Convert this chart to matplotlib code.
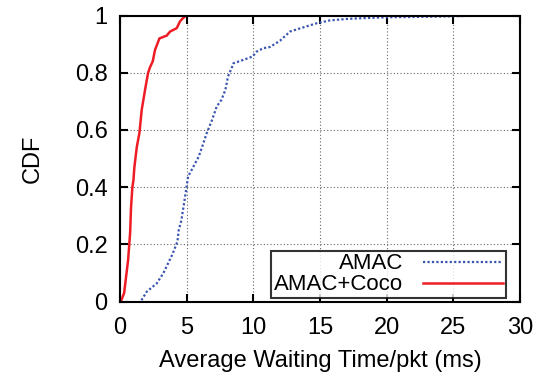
import matplotlib
matplotlib.use("Agg")
import matplotlib.pyplot as plt

# === DATA ===
amac_x = [1.6, 2.0, 2.75, 3.25, 3.6, 3.9, 4.1, 4.3, 4.4, 4.6, 4.8, 4.95, 5.1, 5.5,
          5.9, 6.25, 6.5, 6.9, 7.25, 7.6, 7.9, 8.1, 8.4, 8.5, 9.25, 9.95, 10.25,
          10.75, 11.25, 12.0, 12.75, 13.5, 14.75, 15.75, 17.0, 18.25, 20.0, 22.0,
          24.5, 27.2]
amac_y = [0.005, 0.035, 0.064, 0.10, 0.134, 0.163, 0.186, 0.21, 0.25, 0.285, 0.344,
          0.39, 0.437, 0.472, 0.507, 0.554, 0.589, 0.635, 0.682, 0.705, 0.74, 0.787,
          0.82, 0.833, 0.845, 0.857, 0.874, 0.886, 0.89, 0.912, 0.944, 0.955, 0.973,
          0.983, 0.988, 0.991, 0.994, 0.995, 0.997, 1.0]

coco_x = [0.05, 0.3, 0.6, 0.75, 0.82, 0.92, 1.0, 1.07, 1.25, 1.45, 1.62, 1.87, 2.1,
          2.25, 2.45, 2.62, 2.95, 3.5, 3.75, 4.25, 4.5, 4.7, 4.95]
coco_y = [0.0, 0.03, 0.146, 0.24, 0.33, 0.40, 0.425, 0.47, 0.54, 0.59, 0.67, 0.74,
          0.80, 0.82, 0.84, 0.88, 0.92, 0.93, 0.944, 0.956, 0.98, 0.99, 1.0]

x_ticks = [0, 5, 10, 15, 20, 25, 30]
y_ticks = [0, 0.2, 0.4, 0.6, 0.8, 1]
y_labels = ["0", "0.2", "0.4", "0.6", "0.8", "1"]

# === PLOT ===
plt.rcParams['font.family'] = ['Liberation Sans', 'DejaVu Sans']
fig = plt.figure(figsize=(5.46, 3.79), dpi=100)
ax = fig.add_axes([0.22, 0.204, 0.732, 0.755])

ax.plot(amac_x, amac_y, color='#3a55b0', linestyle=(0, (1, 1)), linewidth=1.6, label='AMAC')
ax.plot(coco_x, coco_y, color='#ee1c25', linewidth=1.8, label='AMAC+Coco')

ax.set_xlim(0, 30)
ax.set_ylim(0, 1)
ax.set_xticks(x_ticks)
ax.set_yticks(y_ticks)
ax.set_yticklabels(y_labels)
ax.tick_params(direction='in', top=True, right=True, length=6, width=1.5,
               labelsize=17)
ax.tick_params(axis='x', pad=11)
ax.tick_params(axis='y', pad=9)
for s in ax.spines.values():
    s.set_linewidth(1.5)
ax.grid(True, color='#666666', linestyle=(0, (1, 2)), linewidth=0.8)
ax.set_axisbelow(True)

ax.set_xlabel("Average Waiting Time/pkt (ms)", fontsize=17, labelpad=8)
ax.set_ylabel("CDF", fontsize=17, labelpad=22)

leg = ax.legend(loc='lower right', markerfirst=False, fontsize=16, frameon=True,
                fancybox=False, edgecolor='black', handlelength=3.6,
                borderpad=0.12, labelspacing=0.0, handletextpad=0.9,
                borderaxespad=0.0, bbox_to_anchor=(0.965, 0.013))
leg.get_frame().set_linewidth(1.5)

plt.savefig("out.png", dpi=100)
